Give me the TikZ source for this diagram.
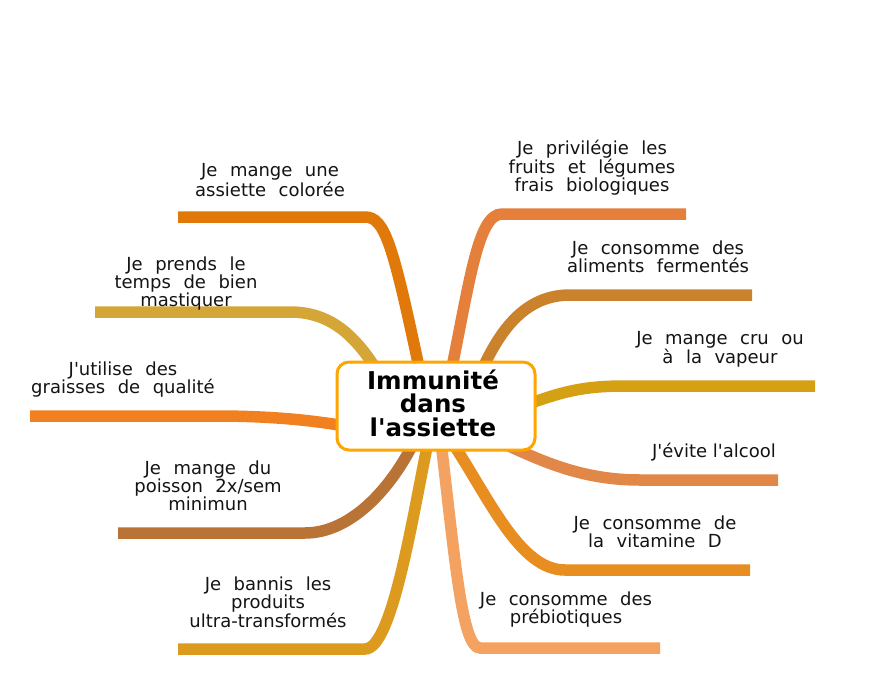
\documentclass[tikz,border=0pt]{standalone}
\usepackage{fontspec}
\setmainfont{DejaVu Sans}[Ligatures=TeXOff]
\definecolor{cA}{HTML}{E0780A}
\definecolor{cB}{HTML}{D4A537}
\definecolor{cC}{HTML}{F08020}
\definecolor{cD}{HTML}{B97337}
\definecolor{cE}{HTML}{DC9B1E}
\definecolor{cF}{HTML}{E4803C}
\definecolor{cG}{HTML}{CB822D}
\definecolor{cH}{HTML}{D4A014}
\definecolor{cI}{HTML}{E18748}
\definecolor{cJ}{HTML}{E88E20}
\definecolor{cK}{HTML}{F3A262}
\definecolor{cBorder}{HTML}{FFA500}
\begin{document}
\begin{tikzpicture}[x=1pt,y=-1pt,
  br/.style={line width=11.5pt},
  lbl/.style={align=center,font={\fontsize{18}{18}\selectfont\spaceskip=12.5pt plus 1pt minus 1pt\relax},text=black!92,inner sep=0pt},
  plainlbl/.style={align=center,font={\fontsize{18}{18}\selectfont},text=black!92,inner sep=0pt},
  hub/.style={draw=cBorder,line width=3pt,fill=white,rounded corners=12pt,
    minimum width=198pt,minimum height=88pt,inner sep=0pt},
  hubtext/.style={align=center,inner sep=0pt,text=black,
    font=\bfseries\fontsize{24.5}{23.5}\selectfont}
]
\useasboundingbox (0,0) rectangle (870,683);
\fill[white] (0,0) rectangle (870,683);
% attachment points (hidden under the hub)
\coordinate (s1) at (420,372);
\coordinate (s2) at (378,372);
\coordinate (s3) at (345,426);
\coordinate (s4) at (414,442);
\coordinate (s5) at (428,442);
\coordinate (s6) at (451,372);
\coordinate (s7) at (481,372);
\coordinate (s8) at (528,404);
\coordinate (s9) at (500,442);
\coordinate (s10) at (452,442);
\coordinate (s11) at (441,442);
% knees and ends
\coordinate (k1) at (365,217);  \coordinate (e1) at (178,217);
\coordinate (k2) at (290,312);  \coordinate (e2) at (95,312);
\coordinate (k3) at (215,416);  \coordinate (e3) at (30,416);
\coordinate (k4) at (305,533);  \coordinate (e4) at (118,533);
\coordinate (k5) at (365,649);  \coordinate (e5) at (178,649);
\coordinate (k6) at (502,214);  \coordinate (e6) at (686,214);
\coordinate (k7) at (570,295);  \coordinate (e7) at (752,295);
\coordinate (k8) at (625,386);  \coordinate (e8) at (815,386);
\coordinate (k9) at (640,480);  \coordinate (e9) at (778,480);
\coordinate (k10) at (565,570); \coordinate (e10) at (750,570);
\coordinate (k11) at (480,648); \coordinate (e11) at (660,648);
% branches
\draw[br,cA] (e1) -- (k1) .. controls (385,217) and (393,245) .. (s1);
\draw[br,cB] (e2) -- (k2) .. controls (330,312) and (355,335) .. (s2);
\draw[br,cC] (e3) -- (k3) .. controls (270,416) and (310,420) .. (s3);
\draw[br,cD] (e4) -- (k4) .. controls (350,533) and (390,490) .. (s4);
\draw[br,cE] (e5) -- (k5) .. controls (392,649) and (412,520) .. (s5);
\draw[br,cF] (e6) -- (k6) .. controls (478,214) and (470,280) .. (s6);
\draw[br,cG] (e7) -- (k7) .. controls (525,295) and (500,330) .. (s7);
\draw[br,cH] (e8) -- (k8) .. controls (580,386) and (560,393) .. (s8);
\draw[br,cI] (e9) -- (k9) .. controls (580,480) and (540,460) .. (s9);
\draw[br,cJ] (e10) -- (k10) .. controls (520,570) and (490,500) .. (s10);
\draw[br,cK] (e11) -- (k11) .. controls (462,648) and (455,560) .. (s11);
% hub
\node[hub] (hub) at (436,406) {};
\node[hubtext] (hubt) at (433,403) {Immunité\\dans\\l'assiette};
% labels
\node[lbl] (t1) at (270,180) {Je mange une\\assiette colorée};
\node[lbl] (t2) at (186,284) {Je prends le\\temps de bien\\mastiquer};
\node[lbl] (t3) at (123,380) {J'utilise des\\graisses de qualité};
\node[lbl] (t4) at (208,486) {Je mange du\\poisson 2x/sem\\minimun};
\node[lbl] (t5) at (268,602) {Je bannis les\\produits\\ultra-transformés};
\node[lbl] (t6) at (592,168) {Je privilégie les\\fruits et légumes\\frais biologiques};
\node[lbl] (t7) at (658,257) {Je consomme des\\aliments fermentés};
\node[lbl] (t8) at (720,349) {Je mange cru ou\\à la vapeur};
\node[plainlbl] (t9) at (714,452) {J'évite l'alcool};
\node[lbl] (t10) at (655,532) {Je consomme de\\la vitamine D};
\node[lbl] (t11) at (566,610) {Je consomme des\\prébiotiques};
\end{tikzpicture}
\end{document}
